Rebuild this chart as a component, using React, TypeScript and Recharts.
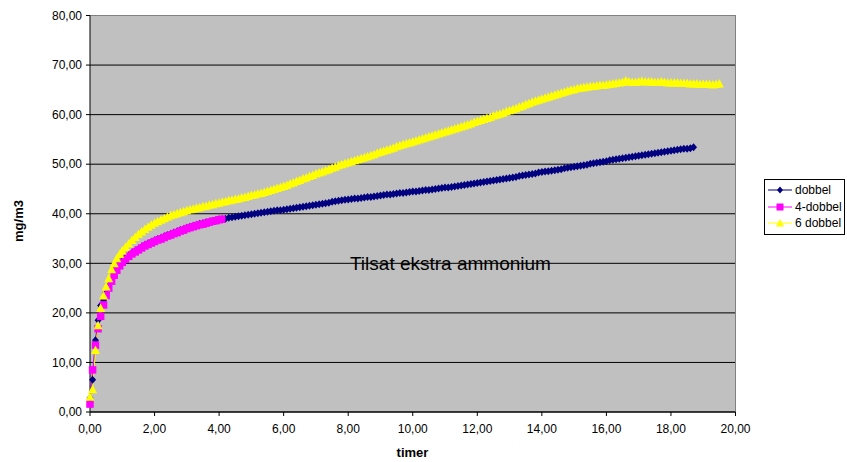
import React from 'react';
import {
  LineChart,
  Line,
  XAxis,
  YAxis,
  CartesianGrid,
  ReferenceLine,
  ReferenceDot,
  Legend,
  Label,
} from 'recharts';

// time (timer) / value (mg/m3) pairs
const dobbelData: [number, number][] = [
  [0, 2.8], [0.08, 6.5], [0.17, 14.5], [0.25, 18.5], [0.33, 21.5], [0.42, 22.6],
  [0.5, 24.0], [0.58, 25.4], [0.67, 26.7], [0.75, 27.9], [0.83, 28.9], [0.92, 29.8],
  [1.0, 30.5], [1.1, 31.1], [1.2, 31.6], [1.3, 32.1], [1.4, 32.5], [1.5, 32.9],
  [1.6, 33.3], [1.7, 33.7], [1.8, 34.0], [1.9, 34.3], [2.0, 34.6], [2.1, 34.9],
  [2.2, 35.1], [2.3, 35.4], [2.4, 35.7], [2.5, 35.9], [2.6, 36.2], [2.7, 36.4],
  [2.8, 36.7], [2.9, 36.9], [3.0, 37.2], [3.1, 37.4], [3.2, 37.6], [3.3, 37.8],
  [3.4, 38.0], [3.5, 38.1], [3.6, 38.3], [3.7, 38.4], [3.8, 38.6], [3.9, 38.7],
  [4.0, 38.8], [4.1, 38.9], [4.2, 39.0], [4.3, 39.2], [4.4, 39.3], [4.5, 39.4],
  [4.6, 39.5], [4.7, 39.6], [4.8, 39.7], [4.9, 39.8], [5.0, 39.9], [5.1, 40.0],
  [5.2, 40.1], [5.3, 40.2], [5.4, 40.3], [5.5, 40.4], [5.6, 40.5], [5.7, 40.6],
  [5.8, 40.7], [5.9, 40.7], [6.0, 40.8], [6.1, 40.9], [6.2, 41.0], [6.3, 41.1],
  [6.4, 41.2], [6.5, 41.3], [6.6, 41.4], [6.7, 41.5], [6.8, 41.6], [6.9, 41.7],
  [7.0, 41.8], [7.1, 41.9], [7.2, 42.0], [7.3, 42.1], [7.4, 42.2], [7.5, 42.4],
  [7.6, 42.5], [7.7, 42.6], [7.8, 42.7], [7.9, 42.8], [8.0, 42.9], [8.1, 43.0],
  [8.2, 43.1], [8.3, 43.1], [8.4, 43.2], [8.5, 43.3], [8.6, 43.4], [8.7, 43.4],
  [8.8, 43.5], [8.9, 43.6], [9.0, 43.7], [9.1, 43.8], [9.2, 43.9], [9.3, 43.9],
  [9.4, 44.0], [9.5, 44.1], [9.6, 44.2], [9.7, 44.2], [9.8, 44.3], [9.9, 44.4],
  [10.0, 44.5], [10.1, 44.5], [10.2, 44.6], [10.3, 44.7], [10.4, 44.8], [10.5, 44.8],
  [10.6, 44.9], [10.7, 45.0], [10.8, 45.1], [10.9, 45.2], [11.0, 45.3], [11.1, 45.3],
  [11.2, 45.4], [11.3, 45.5], [11.4, 45.6], [11.5, 45.7], [11.6, 45.8], [11.7, 45.9],
  [11.8, 46.0], [11.9, 46.1], [12.0, 46.2], [12.1, 46.3], [12.2, 46.4], [12.3, 46.5],
  [12.4, 46.6], [12.5, 46.7], [12.6, 46.8], [12.7, 46.9], [12.8, 47.0], [12.9, 47.1],
  [13.0, 47.2], [13.1, 47.3], [13.2, 47.4], [13.3, 47.6], [13.4, 47.7], [13.5, 47.8],
  [13.6, 47.9], [13.7, 48.0], [13.8, 48.1], [13.9, 48.3], [14.0, 48.4], [14.1, 48.5],
  [14.2, 48.6], [14.3, 48.7], [14.4, 48.8], [14.5, 48.9], [14.6, 49.0], [14.7, 49.2],
  [14.8, 49.3], [14.9, 49.4], [15.0, 49.5], [15.1, 49.6], [15.2, 49.7], [15.3, 49.8],
  [15.4, 49.9], [15.5, 50.1], [15.6, 50.2], [15.7, 50.3], [15.8, 50.4], [15.9, 50.5],
  [16.0, 50.6], [16.1, 50.8], [16.2, 50.9], [16.3, 51.0], [16.4, 51.1], [16.5, 51.2],
  [16.6, 51.3], [16.7, 51.4], [16.8, 51.5], [16.9, 51.6], [17.0, 51.7], [17.1, 51.8],
  [17.2, 51.9], [17.3, 52.0], [17.4, 52.1], [17.5, 52.2], [17.6, 52.3], [17.7, 52.4],
  [17.8, 52.5], [17.9, 52.6], [18.0, 52.7], [18.1, 52.8], [18.2, 52.9], [18.3, 53.0],
  [18.4, 53.1], [18.5, 53.1], [18.6, 53.2], [18.7, 53.4],
];

const fireDobbelData: [number, number][] = [
  [0, 1.6], [0.08, 8.5], [0.17, 13.5], [0.25, 16.8], [0.33, 19.3], [0.42, 21.6],
  [0.5, 23.5], [0.58, 25.0], [0.67, 26.4], [0.75, 27.6], [0.83, 28.6], [0.92, 29.5],
  [1.0, 30.2], [1.1, 30.8], [1.2, 31.4], [1.3, 31.9], [1.4, 32.3], [1.5, 32.7],
  [1.6, 33.1], [1.7, 33.5], [1.8, 33.8], [1.9, 34.1], [2.0, 34.4], [2.1, 34.7],
  [2.2, 34.9], [2.3, 35.2], [2.4, 35.5], [2.5, 35.7], [2.6, 36.0], [2.7, 36.2],
  [2.8, 36.5], [2.9, 36.7], [3.0, 37.0], [3.1, 37.2], [3.2, 37.4], [3.3, 37.6],
  [3.4, 37.8], [3.5, 37.9], [3.6, 38.1], [3.7, 38.3], [3.8, 38.5], [3.9, 38.6],
  [4.0, 38.8], [4.08, 38.9],
];

const seksDobbelData: [number, number][] = [
  [0, 3.1], [0.08, 4.6], [0.17, 12.5], [0.25, 17.5], [0.33, 21.0], [0.42, 23.5],
  [0.5, 25.3], [0.58, 27.0], [0.67, 28.8], [0.75, 30.0], [0.83, 31.0], [0.92, 31.9],
  [1.0, 32.6], [1.1, 33.3], [1.2, 34.0], [1.3, 34.7], [1.4, 35.3], [1.5, 35.9],
  [1.6, 36.4], [1.7, 36.9], [1.8, 37.4], [1.9, 37.8], [2.0, 38.2], [2.1, 38.5],
  [2.2, 38.8], [2.3, 39.1], [2.4, 39.4], [2.5, 39.7], [2.6, 39.9], [2.7, 40.1],
  [2.8, 40.3], [2.9, 40.5], [3.0, 40.7], [3.1, 40.9], [3.2, 41.0], [3.3, 41.2],
  [3.4, 41.3], [3.5, 41.5], [3.6, 41.6], [3.7, 41.8], [3.8, 41.9], [3.9, 42.1],
  [4.0, 42.2], [4.1, 42.4], [4.2, 42.5], [4.3, 42.7], [4.4, 42.8], [4.5, 43.0],
  [4.6, 43.1], [4.7, 43.3], [4.8, 43.4], [4.9, 43.6], [5.0, 43.8], [5.1, 43.9],
  [5.2, 44.1], [5.3, 44.2], [5.4, 44.4], [5.5, 44.6], [5.6, 44.8], [5.7, 45.0],
  [5.8, 45.2], [5.9, 45.4], [6.0, 45.6], [6.1, 45.8], [6.2, 46.1], [6.3, 46.3],
  [6.4, 46.6], [6.5, 46.8], [6.6, 47.1], [6.7, 47.3], [6.8, 47.6], [6.9, 47.8],
  [7.0, 48.1], [7.1, 48.3], [7.2, 48.5], [7.3, 48.8], [7.4, 49.0], [7.5, 49.3],
  [7.6, 49.5], [7.7, 49.8], [7.8, 50.0], [7.9, 50.2], [8.0, 50.4], [8.1, 50.6],
  [8.2, 50.8], [8.3, 51.0], [8.4, 51.2], [8.5, 51.4], [8.6, 51.6], [8.7, 51.8],
  [8.8, 52.0], [8.9, 52.3], [9.0, 52.5], [9.1, 52.7], [9.2, 52.9], [9.3, 53.1],
  [9.4, 53.3], [9.5, 53.6], [9.6, 53.8], [9.7, 54.0], [9.8, 54.2], [9.9, 54.4],
  [10.0, 54.6], [10.1, 54.8], [10.2, 55.0], [10.3, 55.2], [10.4, 55.4], [10.5, 55.6],
  [10.6, 55.8], [10.7, 56.0], [10.8, 56.2], [10.9, 56.4], [11.0, 56.6], [11.1, 56.8],
  [11.2, 57.0], [11.3, 57.2], [11.4, 57.4], [11.5, 57.6], [11.6, 57.8], [11.7, 58.0],
  [11.8, 58.2], [11.9, 58.5], [12.0, 58.7], [12.1, 58.9], [12.2, 59.1], [12.3, 59.3],
  [12.4, 59.5], [12.5, 59.8], [12.6, 60.0], [12.7, 60.2], [12.8, 60.4], [12.9, 60.7],
  [13.0, 60.9], [13.1, 61.1], [13.2, 61.3], [13.3, 61.6], [13.4, 61.8], [13.5, 62.1],
  [13.6, 62.3], [13.7, 62.6], [13.8, 62.8], [13.9, 63.0], [14.0, 63.2], [14.1, 63.4],
  [14.2, 63.6], [14.3, 63.8], [14.4, 64.0], [14.5, 64.2], [14.6, 64.4], [14.7, 64.6],
  [14.8, 64.8], [14.9, 65.0], [15.0, 65.1], [15.1, 65.3], [15.2, 65.4], [15.3, 65.5],
  [15.4, 65.6], [15.5, 65.7], [15.6, 65.8], [15.7, 65.9], [15.8, 66.0], [15.9, 66.0],
  [16.0, 66.1], [16.1, 66.2], [16.2, 66.3], [16.3, 66.4], [16.4, 66.5], [16.5, 66.6],
  [16.6, 66.9], [16.7, 66.7], [16.8, 66.6], [16.9, 66.6], [17.0, 66.7], [17.1, 66.8],
  [17.2, 66.7], [17.3, 66.7], [17.4, 66.7], [17.5, 66.6], [17.6, 66.6], [17.7, 66.7],
  [17.8, 66.6], [17.9, 66.5], [18.0, 66.5], [18.1, 66.5], [18.2, 66.5], [18.3, 66.4],
  [18.4, 66.4], [18.5, 66.4], [18.6, 66.3], [18.7, 66.3], [18.8, 66.3], [18.9, 66.2],
  [19.0, 66.2], [19.1, 66.2], [19.2, 66.2], [19.3, 66.1], [19.4, 66.2], [19.5, 66.3],
];

const xTicks = [0, 2, 4, 6, 8, 10, 12, 14, 16, 18, 20];
const yTicks = [0, 10, 20, 30, 40, 50, 60, 70, 80];

const seriesNames = ['dobbel', '4-dobbel', '6 dobbel'];
const seriesColors = ['#000080', '#FF00FF', '#FFFF00'];

const toRows = (d: [number, number][]) => d.map(([t, v]) => ({ t, v }));

const fmt = (v: number) => v.toFixed(2).replace('.', ',');
const FONT = 'Liberation Sans, Arial, sans-serif';

const Diamond = (props: any) => {
  const { cx, cy, fill, index } = props;
  if (cx == null || cy == null) return <g key={index} />;
  return (
    <polygon
      key={index}
      points={`${cx},${cy - 4} ${cx + 3.5},${cy} ${cx},${cy + 4} ${cx - 3.5},${cy}`}
      fill={fill}
    />
  );
};

const Square = (props: any) => {
  const { cx, cy, fill, index } = props;
  if (cx == null || cy == null) return <g key={index} />;
  return <rect key={index} x={cx - 3.75} y={cy - 3.75} width={7.5} height={7.5} fill={fill} />;
};

const Triangle = (props: any) => {
  const { cx, cy, fill, index } = props;
  if (cx == null || cy == null) return <g key={index} />;
  return (
    <polygon
      key={index}
      points={`${cx},${cy - 4.5} ${cx + 4.5},${cy + 4} ${cx - 4.5},${cy + 4}`}
      fill={fill}
    />
  );
};

const markerIcon = (i: number) => {
  const c = seriesColors[i];
  if (i === 0) return <polygon points="12,4.5 15,8 12,11.5 9,8" fill={c} />;
  if (i === 1) return <rect x={8.5} y={4.5} width={7} height={7} fill={c} />;
  return <polygon points="12,4 16,11.5 8,11.5" fill={c} />;
};

const renderLegend = () => (
  <div
    style={{
      border: '1px solid #000',
      background: '#fff',
      padding: '2px 0',
      width: 81,
      boxSizing: 'border-box',
      fontFamily: FONT,
      fontSize: 12,
      color: '#000',
    }}
  >
    {seriesNames.map((n, i) => (
      <div key={n} style={{ display: 'flex', alignItems: 'center', height: 16.5 }}>
        <svg width={26} height={16} style={{ marginLeft: 3, flex: 'none' }}>
          <line x1={0} y1={8} x2={24} y2={8} stroke={seriesColors[i]} strokeWidth={1} />
          {markerIcon(i)}
        </svg>
        <span style={{ marginLeft: 1, whiteSpace: 'nowrap' }}>{n}</span>
      </div>
    ))}
  </div>
);

export default function App() {
  return (
    <div style={{ position: 'absolute', left: 0, top: 0, width: 847, height: 462, background: '#fff' }}>
      <LineChart
        width={847}
        height={462}
        margin={{ top: 15.5, right: 111.5, left: 0, bottom: 0 }}
      >
        <CartesianGrid
          horizontal
          vertical={false}
          stroke="#000"
          strokeWidth={1}
          fill="#C0C0C0"
          fillOpacity={1}
        />
        <XAxis
          dataKey="t"
          type="number"
          domain={[0, 20]}
          ticks={xTicks}
          tickFormatter={fmt}
          allowDuplicatedCategory={false}
          height={50}
          tickSize={4}
          tickMargin={8}
          axisLine={{ stroke: '#000' }}
          tickLine={{ stroke: '#000' }}
          tick={{ fill: '#000', fontSize: 12, fontFamily: FONT }}
          interval={0}
        >
          <Label
            content={() => (
              <text
                x={412.5}
                y={457}
                textAnchor="middle"
                fontFamily={FONT}
                fontSize={13}
                fontWeight="bold"
                fill="#000"
              >
                timer
              </text>
            )}
          />
        </XAxis>
        <YAxis
          type="number"
          domain={[0, 80]}
          ticks={yTicks}
          tickFormatter={fmt}
          width={90}
          tickSize={4}
          tickMargin={4}
          axisLine={{ stroke: '#000' }}
          tickLine={{ stroke: '#000' }}
          tick={{ fill: '#000', fontSize: 12, fontFamily: FONT }}
          interval={0}
        >
          <Label
            content={() => (
              <text
                x={23}
                y={221}
                transform="rotate(-90, 23, 221)"
                textAnchor="middle"
                fontFamily={FONT}
                fontSize={13}
                fontWeight="bold"
                fill="#000"
              >
                mg/m3
              </text>
            )}
          />
        </YAxis>
        <ReferenceLine y={80} stroke="#808080" strokeWidth={1} />
        <ReferenceLine x={20} stroke="#808080" strokeWidth={1} />
        <ReferenceDot
          x={7.9}
          y={30}
          r={0}
          fill="none"
          stroke="none"
          label={{
            value: 'Tilsat ekstra ammonium',
            position: 'right',
            offset: 5,
            fontSize: 19,
            fontFamily: FONT,
            fill: '#000',
          }}
        />
        <Line
          data={toRows(dobbelData)}
          dataKey="v"
          name={seriesNames[0]}
          stroke={seriesColors[0]}
          strokeWidth={1}
          dot={(p: any) => <Diamond {...p} fill={seriesColors[0]} />}
          activeDot={false}
          isAnimationActive={false}
        />
        <Line
          data={toRows(fireDobbelData)}
          dataKey="v"
          name={seriesNames[1]}
          stroke={seriesColors[1]}
          strokeWidth={1}
          dot={(p: any) => <Square {...p} fill={seriesColors[1]} />}
          activeDot={false}
          isAnimationActive={false}
        />
        <Line
          data={toRows(seksDobbelData)}
          dataKey="v"
          name={seriesNames[2]}
          stroke={seriesColors[2]}
          strokeWidth={1}
          dot={(p: any) => <Triangle {...p} fill={seriesColors[2]} />}
          activeDot={false}
          isAnimationActive={false}
        />
        <Legend
          layout="vertical"
          align="center"
          verticalAlign="middle"
          content={renderLegend}
          wrapperStyle={{ position: 'absolute', left: 764, top: 179, width: 81, height: 'auto' }}
        />
      </LineChart>
    </div>
  );
}
